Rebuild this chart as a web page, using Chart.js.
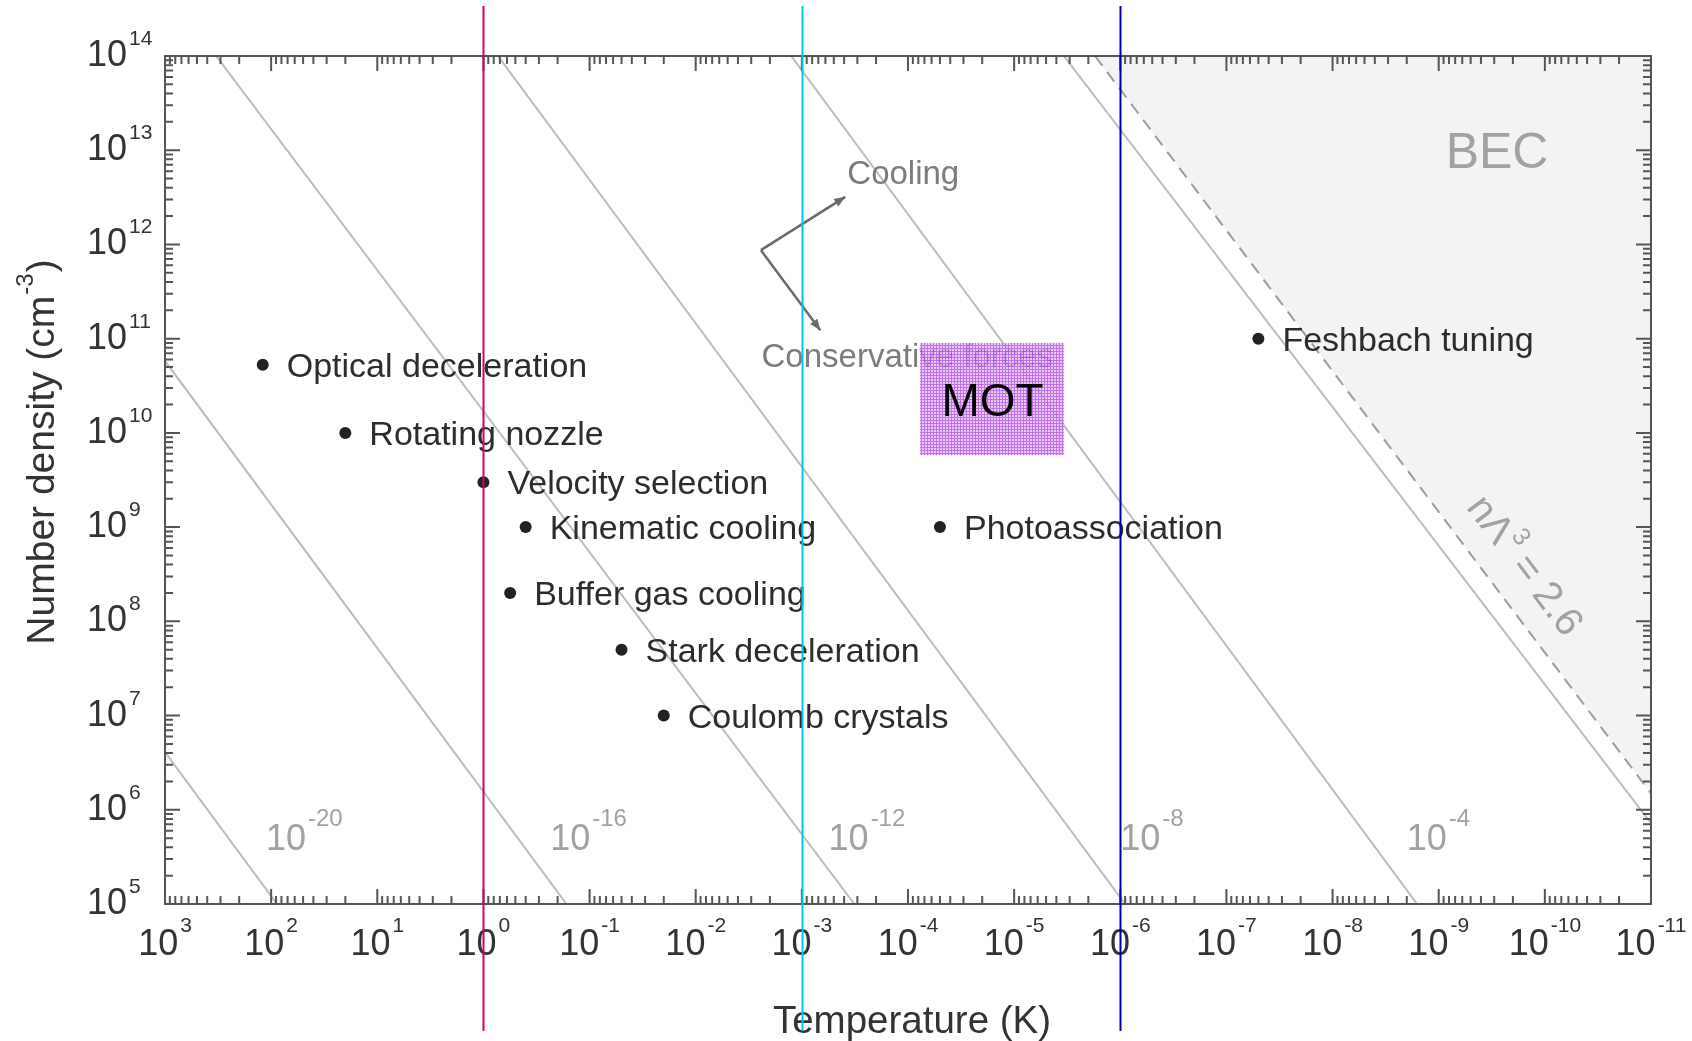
<!DOCTYPE html>
<html>
<head>
<meta charset="utf-8">
<title>Cold molecules: density vs temperature</title>
<script src="https://cdn.jsdelivr.net/npm/chart.js@4.4.1/dist/chart.umd.min.js"></script>
<style>
  html, body { margin: 0; padding: 0; background: #fff; }
  #wrap { width: 1692px; height: 1041px; position: relative; }
</style>
</head>
<body>
<div id="wrap"><canvas id="c"></canvas></div>
<script>
const FONT = '"Liberation Sans", Arial, Helvetica, sans-serif';

// axis decades (10^e)
const X_EXPONENTS = [3, 2, 1, 0, -1, -2, -3, -4, -5, -6, -7, -8, -9, -10, -11];
const Y_EXPONENTS = [5, 6, 7, 8, 9, 10, 11, 12, 13, 14];

// techniques: temperature (K) and number density (cm^-3)
const TECH_NAMES = ['Optical deceleration', 'Rotating nozzle', 'Velocity selection', 'Kinematic cooling',
  'Buffer gas cooling', 'Stark deceleration', 'Coulomb crystals', 'Photoassociation', 'Feshbach tuning'];
const TECH_T = [120, 20, 1, 0.4, 0.56, 0.05, 0.02, 5e-5, 5e-8];
const TECH_N = [5.3e10, 1e10, 3e9, 1e9, 2e8, 5e7, 1e7, 1e9, 1e11];

// constant phase-space density lines, end points
const PSD_EXPONENTS = [-20, -16, -12, -8, -4, 0];
const PSD_T_FROM = [1e3, 1e3, 330, 0.73, 1.26e-3, 3.4e-6];
const PSD_N_FROM = [4.1e6, 5.8e10, 1e14, 1e14, 1e14, 1e14];
const PSD_T_TO = [88, 0.165, 3.2e-4, 9e-7, 1.6e-9, 1e-11];
const PSD_N_TO = [1e5, 1e5, 1e5, 1e5, 1e5, 7.2e5];
const PSD_LABEL_T = [112, 0.235, 5.6e-4, 1e-6, 2e-9];
const PSD_LABEL_N = [3.7e5, 3.7e5, 3.7e5, 3.7e5, 3.7e5];

// BEC threshold n*lambda^3 = 2.6 (dashed)
const BEC_T = [1.73e-6, 1e-11];
const BEC_N = [1e14, 1.49e6];

// MOT region
const MOT_T = [7.7e-5, 3.4e-6];
const MOT_N = [9e10, 5.8e9];

// cooling / conservative forces arrows
const ARROW_T = [2.43e-3, 3.9e-4, 6.7e-4]; // corner, cooling tip, conservative tip
const ARROW_N = [8.7e11, 3.2e12, 1.23e11];

// highlighted temperatures
const MARKER_T = [1, 1e-3, 1e-6];
const MARKER_COLORS = ['#d3006c', '#00c6ef', '#0000a2'];

const pts = (ts, ns) => ts.map((t, i) => ({ x: t, y: ns[i] }));

const datasets = [
  {
    label: 'BEC',
    data: pts(BEC_T, BEC_N),
    borderColor: '#9c9c9c',
    borderWidth: 2,
    borderDash: [12, 8],
    backgroundColor: '#f3f3f3',
    fill: 'end',
    pointRadius: 0
  },
  ...PSD_EXPONENTS.map((e, i) => ({
    label: 'PSD 1e' + e,
    data: pts([PSD_T_FROM[i], PSD_T_TO[i]], [PSD_N_FROM[i], PSD_N_TO[i]]),
    borderColor: '#bcbcbc',
    borderWidth: 2,
    fill: false,
    pointRadius: 0
  })),
  {
    label: 'Techniques',
    data: pts(TECH_T, TECH_N),
    showLine: false,
    pointRadius: 6,
    pointBackgroundColor: '#222',
    pointBorderWidth: 0
  }
];

function drawPower(ctx, exp, x, y, opts) {
  const { size, expSize, rise, align } = opts;
  ctx.font = `${size}px ${FONT}`;
  const wb = ctx.measureText('10').width;
  ctx.font = `${expSize}px ${FONT}`;
  const we = ctx.measureText(String(exp)).width;
  const gap = 2;
  let left = x;
  if (align === 'center') left = x - (wb + gap + we) / 2;
  ctx.textAlign = 'left';
  ctx.textBaseline = 'alphabetic';
  ctx.font = `${size}px ${FONT}`;
  ctx.fillText('10', left, y);
  ctx.font = `${expSize}px ${FONT}`;
  ctx.fillText(String(exp), left + wb + gap, y - rise);
}

function arrow(ctx, x0, y0, x1, y1) {
  ctx.beginPath();
  ctx.moveTo(x0, y0);
  ctx.lineTo(x1, y1);
  ctx.stroke();
  const a = Math.atan2(y1 - y0, x1 - x0);
  const L = 11, W = 4.5;
  ctx.beginPath();
  ctx.moveTo(x1, y1);
  ctx.lineTo(x1 - L * Math.cos(a) + W * Math.sin(a), y1 - L * Math.sin(a) - W * Math.cos(a));
  ctx.lineTo(x1 - L * Math.cos(a) - W * Math.sin(a), y1 - L * Math.sin(a) + W * Math.cos(a));
  ctx.closePath();
  ctx.fill();
}

function motPattern(ctx) {
  const c = document.createElement('canvas');
  c.width = 3; c.height = 3;
  const p = c.getContext('2d');
  p.fillStyle = '#e4c0f6';
  p.fillRect(0, 0, 3, 3);
  p.fillStyle = '#b552e6';
  p.fillRect(0, 0, 3, 1);
  p.fillRect(0, 0, 1, 3);
  return ctx.createPattern(c, 'repeat');
}

const decorations = {
  id: 'decorations',
  afterDatasetsDraw(chart) {
    const { ctx, chartArea: a, scales: { x, y } } = chart;
    const P = (t, n) => [x.getPixelForValue(t), y.getPixelForValue(n)];
    ctx.save();

    // technique labels
    ctx.fillStyle = '#2c2c2c';
    ctx.font = `34px ${FONT}`;
    ctx.textAlign = 'left';
    ctx.textBaseline = 'alphabetic';
    TECH_NAMES.forEach((name, i) => {
      const [px, py] = P(TECH_T[i], TECH_N[i]);
      ctx.fillText(name, px + 24, py + 12);
    });

    // phase-space density labels
    ctx.fillStyle = '#a2a2a2';
    PSD_LABEL_T.forEach((t, i) => {
      const [px, py] = P(t, PSD_LABEL_N[i]);
      drawPower(ctx, PSD_EXPONENTS[i], px, py, { size: 36, expSize: 24, rise: 24, align: 'left' });
    });

    // BEC label
    ctx.font = `50px ${FONT}`;
    const [bx, by] = P(8.6e-10, 6.5e12);
    ctx.fillText('BEC', bx, by);

    // n Lambda^3 = 2.6 along the dashed line
    const [lx, ly] = P(1.5e-10, 4e8);
    ctx.save();
    ctx.translate(lx, ly);
    ctx.rotate(Math.atan2(y.getPixelForValue(BEC_N[1]) - y.getPixelForValue(BEC_N[0]),
      x.getPixelForValue(BEC_T[1]) - x.getPixelForValue(BEC_T[0])));
    ctx.font = `40px ${FONT}`;
    const t1 = 'n\u039B', t2 = '3', t3 = ' = 2.6';
    const w1 = ctx.measureText(t1).width, w3 = ctx.measureText(t3).width;
    ctx.font = `25px ${FONT}`;
    const w2 = ctx.measureText(t2).width;
    const sx = -(w1 + w2 + w3) / 2;
    ctx.font = `40px ${FONT}`;
    ctx.fillText(t1, sx, 14);
    ctx.font = `25px ${FONT}`;
    ctx.fillText(t2, sx + w1 + 1, -5);
    ctx.font = `40px ${FONT}`;
    ctx.fillText(t3, sx + w1 + w2, 14);
    ctx.restore();

    // cooling / conservative forces
    ctx.fillStyle = '#7c7c7c';
    ctx.font = `33px ${FONT}`;
    let [cx, cy] = P(3.73e-4, 4.4e12);
    ctx.fillText('Cooling', cx, cy);
    [cx, cy] = P(2.4e-3, 5.0e10);
    ctx.fillText('Conservative forces', cx, cy);

    ctx.strokeStyle = '#6a6a6a';
    ctx.fillStyle = '#6a6a6a';
    ctx.lineWidth = 2.5;
    const [ox, oy] = P(ARROW_T[0], ARROW_N[0]);
    for (let k = 1; k < 3; k++) {
      const [tx, ty] = P(ARROW_T[k], ARROW_N[k]);
      arrow(ctx, ox, oy, tx, ty);
    }

    // MOT box
    const [mx0, my0] = P(MOT_T[0], MOT_N[0]);
    const [mx1, my1] = P(MOT_T[1], MOT_N[1]);
    ctx.globalAlpha = 0.82;
    ctx.fillStyle = motPattern(ctx);
    ctx.fillRect(mx0, my0, mx1 - mx0, my1 - my0);
    ctx.globalAlpha = 1;
    ctx.fillStyle = '#000';
    ctx.font = `46px ${FONT}`;
    ctx.textAlign = 'center';
    const [tx, ty] = P(1.6e-5, 2.23e10);
    ctx.fillText('MOT', tx, ty + 16);

    // frame and ticks
    ctx.strokeStyle = '#555';
    ctx.lineWidth = 2;
    ctx.strokeRect(a.left, a.top, a.right - a.left, a.bottom - a.top);
    ctx.beginPath();
    X_EXPONENTS.forEach((e) => {
      const p = x.getPixelForValue(10 ** e);
      ctx.moveTo(p, a.bottom); ctx.lineTo(p, a.bottom - 15);
      ctx.moveTo(p, a.top); ctx.lineTo(p, a.top + 15);
      if (e < 3) {
        for (let m = 2; m <= 9; m++) {
          const q = x.getPixelForValue(m * 10 ** e);
          ctx.moveTo(q, a.bottom); ctx.lineTo(q, a.bottom - 8);
          ctx.moveTo(q, a.top); ctx.lineTo(q, a.top + 8);
        }
      }
    });
    Y_EXPONENTS.forEach((e) => {
      const p = y.getPixelForValue(10 ** e);
      ctx.moveTo(a.left, p); ctx.lineTo(a.left + 15, p);
      ctx.moveTo(a.right, p); ctx.lineTo(a.right - 15, p);
      if (e < 14) {
        for (let m = 2; m <= 9; m++) {
          const q = y.getPixelForValue(m * 10 ** e);
          ctx.moveTo(a.left, q); ctx.lineTo(a.left + 8, q);
          ctx.moveTo(a.right, q); ctx.lineTo(a.right - 8, q);
        }
      }
    });
    ctx.stroke();

    // tick labels
    ctx.fillStyle = '#333';
    X_EXPONENTS.forEach((e) => {
      drawPower(ctx, e, x.getPixelForValue(10 ** e), a.bottom + 51, { size: 36, expSize: 21, rise: 23, align: 'center' });
    });
    Y_EXPONENTS.forEach((e) => {
      drawPower(ctx, e, 87, y.getPixelForValue(10 ** e) + 10, { size: 36, expSize: 21, rise: 21, align: 'left' });
    });

    // axis titles
    ctx.fillStyle = '#333';
    ctx.font = `38.5px ${FONT}`;
    ctx.textAlign = 'center';
    ctx.fillText('Temperature (K)', (a.left + a.right) / 2 + 4, 1033);

    ctx.save();
    ctx.translate(40, 452);
    ctx.rotate(-Math.PI / 2);
    ctx.textAlign = 'left';
    ctx.font = `39px ${FONT}`;
    const s1 = 'Number density (cm', s3 = ')';
    const ws1 = ctx.measureText(s1).width, ws3 = ctx.measureText(s3).width;
    ctx.font = `24px ${FONT}`;
    const ws2 = ctx.measureText('-3').width;
    const start = -(ws1 + ws2 + ws3 + 2) / 2;
    ctx.font = `39px ${FONT}`;
    ctx.fillText(s1, start, 14);
    ctx.font = `24px ${FONT}`;
    ctx.fillText('-3', start + ws1 + 1, -7);
    ctx.font = `39px ${FONT}`;
    ctx.fillText(s3, start + ws1 + ws2 + 2, 14);
    ctx.restore();

    // highlighted temperature lines
    ctx.lineWidth = 2;
    MARKER_T.forEach((t, i) => {
      const p = Math.round(x.getPixelForValue(t)) + 0.5;
      ctx.strokeStyle = MARKER_COLORS[i];
      ctx.beginPath();
      ctx.moveTo(p, 6);
      ctx.lineTo(p, 1031);
      ctx.stroke();
    });

    ctx.restore();
  }
};

new Chart(document.getElementById('c'), {
  type: 'line',
  data: { datasets },
  options: {
    responsive: true,
    maintainAspectRatio: false,
    animation: false,
    layout: { padding: { left: 165, right: 41, top: 56, bottom: 137 } },
    scales: {
      x: { type: 'logarithmic', reverse: true, min: 1e-11, max: 1e3, display: false },
      y: { type: 'logarithmic', min: 1e5, max: 1e14, display: false }
    },
    plugins: {
      legend: { display: false },
      tooltip: { enabled: false }
    },
    elements: { line: { tension: 0 } }
  },
  plugins: [decorations]
});
</script>
</body>
</html>
